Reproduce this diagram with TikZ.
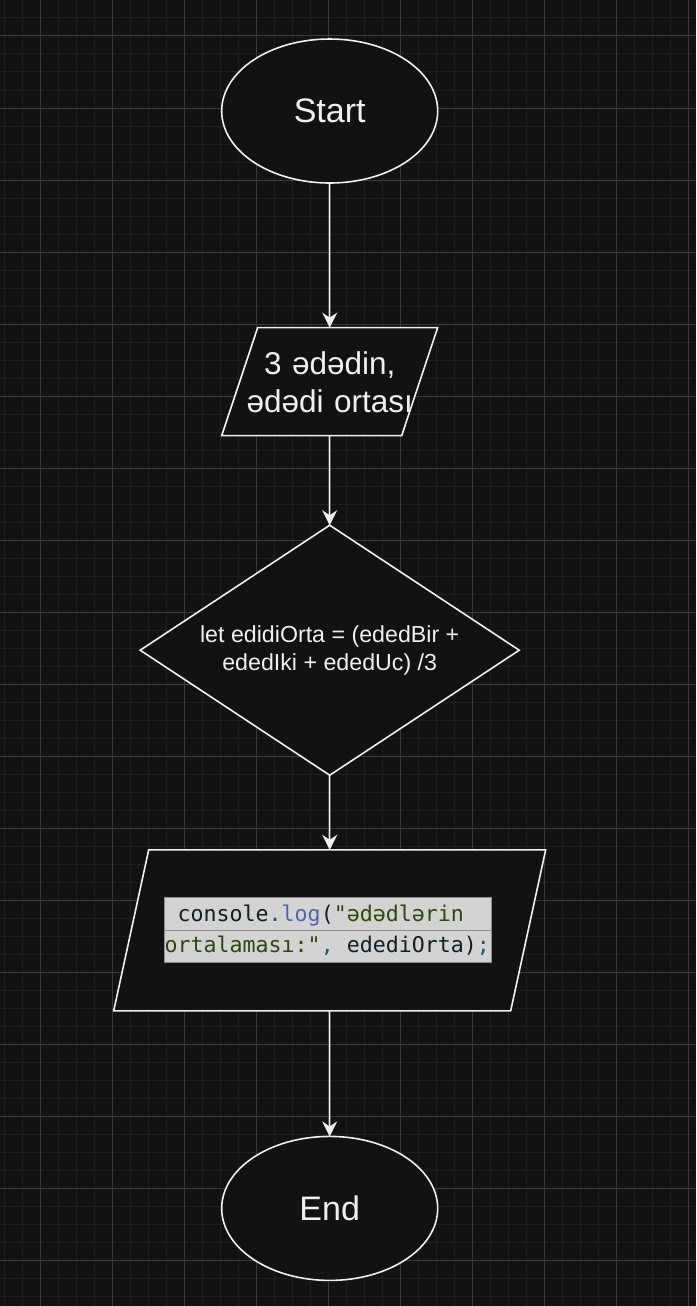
\documentclass[tikz,border=0pt]{standalone}
\usepackage{fontspec}
\setmainfont{Liberation Sans}
\newfontfamily\codefont{DejaVu Sans Mono}
\usetikzlibrary{shapes.geometric,arrows.meta,matrix}

\definecolor{canvas}{HTML}{121212}
\definecolor{gridminor}{HTML}{1E1E1E}
\definecolor{gridmajor}{HTML}{3A3A3A}
\definecolor{lineclr}{HTML}{F0F0F0}
\definecolor{codebg}{HTML}{D3D3D3}
\definecolor{codeedge}{HTML}{8C8C8C}
\definecolor{codeink}{HTML}{0E1F26}
\definecolor{codeblue}{HTML}{4A67AD}
\definecolor{codegreen}{HTML}{2A4A07}
\definecolor{codeteal}{HTML}{1D5676}

\tikzstyle{terminal}=[ellipse,
    line width=1.6pt,
    minimum width=216pt,
    minimum height=144pt,
    inner sep=0pt, outer sep=0pt,
    draw=lineclr,
    fill=canvas,
    text=lineclr,
    font=\fontsize{34}{40}\selectfont]
\tikzstyle{io}=[trapezium,
    trapezium stretches=false,
    line width=1.6pt,
    inner sep=0pt, outer sep=0pt,
    draw=lineclr,
    fill=canvas,
    text=lineclr,
    align=center,
    font=\fontsize{31.5}{38}\selectfont]
\tikzstyle{decision}=[diamond,
    aspect=1.516,
    line width=1.6pt,
    minimum width=379pt,
    minimum height=250pt,
    inner sep=0pt, outer sep=0pt,
    draw=lineclr,
    fill=canvas,
    text=lineclr,
    align=center,
    font=\fontsize{23.2}{27.7}\selectfont]
\tikzstyle{codebox}=[rectangle,
    line width=1pt,
    draw=codeedge,
    fill=codebg,
    inner sep=0pt,
    text width=327pt,
    align=left,
    font=\codefont\fontsize{21.6}{30.7}\selectfont]
\tikzstyle{flow}=[draw=lineclr, line width=1.5pt,
    -{Stealth[length=15pt,width=15pt,inset=5pt]}]
\tikzstyle{minorgrid}=[draw=gridminor, line width=1pt]
\tikzstyle{majorgrid}=[draw=gridmajor, line width=1pt]

\begin{document}
\begin{tikzpicture}[x=1pt,y=-1pt]
            % canvas and grid
            \useasboundingbox (0,0) rectangle (696,1306);
            \fill[canvas] (0,0) rectangle (696,1306);
            \foreach \x in {4,22,...,696} \draw[minorgrid] (\x,0) -- (\x,1306);
            \foreach \y in {0,18,...,1306} \draw[minorgrid] (0,\y) -- (696,\y);
            \foreach \x in {40,112,...,696} \draw[majorgrid] (\x,0) -- (\x,1306);
            \foreach \y in {36,108,...,1306} \draw[majorgrid] (0,\y) -- (696,\y);

            \matrix (chart) [row sep=0pt, inner sep=0pt, anchor=north] at (329.7,38) {
                \node (start) [terminal] {Start};\\[143pt]
                \node (input) [io, text width=144pt, text height=46.7pt, text depth=61.3pt,
                    trapezium left angle=71.57, trapezium right angle=108.43]
                    {\makebox[144pt]{3 ədədin,}\\\makebox[144pt]{ədədi ortası}};\\[88pt]
                \node (avg) [decision] {let edidiOrta = (ededBir +\\ededIki + ededUc) /3};\\[73pt]
                \node (output) [io, text width=362pt, text height=161pt, text depth=0pt,
                    trapezium left angle=77.74, trapezium right angle=102.26] {};\\[124pt]
                \node (end) [terminal] {End};\\
            };
            \node (code) [codebox] at ([xshift=-1.5pt]output.center)
                {\rule{0pt}{24pt}{\color{codeink}\hphantom{c}console}{\color{codeteal}.}{\color{codeblue}log}{\color{codeink}(}{\color{codegreen}"ədədlərin}\\
                {\color{codegreen}ortalaması:"}{\color{codeteal},}{\color{codeink}\hphantom{c}edediOrta)}{\color{codeteal};}\rule[-10.3pt]{0pt}{10.3pt}};
            \draw [codeedge] (code.west) -- (code.east);

            \draw [flow] (start) -- (input);
            \draw [flow] (input) -- (avg);
            \draw [flow] (avg) -- (output);
            \draw [flow] (output) -- (end);

        \end{tikzpicture}
\end{document}
